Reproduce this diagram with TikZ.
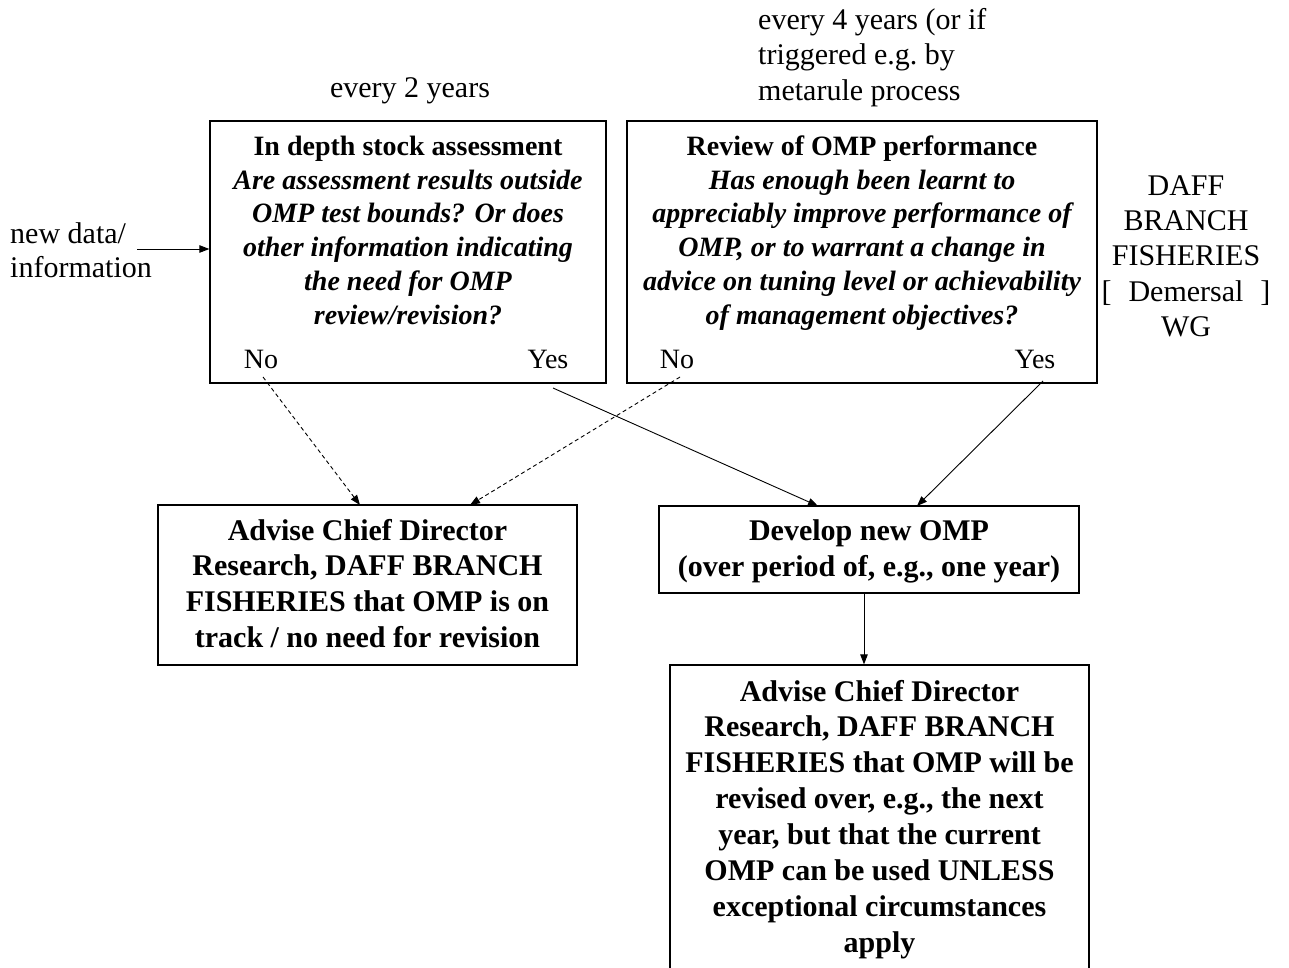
\documentclass[tikz,border=0pt]{standalone}
\usepackage{fontspec}
\setmainfont{Liberation Serif}
\usetikzlibrary{arrows.meta,calc}
\begin{document}
\begin{tikzpicture}[x=1pt,y=-1pt,
  box/.style={draw,line width=1.3pt,inner sep=0pt},
  txt/.style={anchor=base,align=center,inner sep=0pt,font=\fontsize{28}{34}\selectfont},
  btxt/.style={txt,font=\fontsize{28}{35.8}\selectfont\bfseries},
  qtxt/.style={txt,font=\fontsize{28}{33.8}\selectfont\bfseries\itshape},
  ptxt/.style={txt,font=\fontsize{30}{35.5}\selectfont},
  conn/.style={line width=0.9pt,-{Triangle[length=10pt,width=7.5pt]}},
  dconn/.style={conn,dash pattern=on 4pt off 3pt}
]
\useasboundingbox (0,0) rectangle (1289,967);
\clip (0,0) rectangle (1289,967);

% boxes
\node[box,minimum width=396,minimum height=262] (A) at (408,252) {};
\node[box,minimum width=470,minimum height=262] (B) at (862,252) {};
\node[box,minimum width=419,minimum height=160] (C) at (367.5,585) {};
\node[box,minimum width=420,minimum height=87] (D) at (869,549.5) {};
\node[box,minimum width=419,minimum height=335] (E) at (879.5,832.5) {};

% labels above / beside (base anchor = last line's baseline)
\node[ptxt] (t2) at (410,97) {every 2 years};
\node[ptxt,anchor=base west,align=left] (t4) at (758,100) {every 4 years (or if\\triggered e.g.\ by\\metarule process};
\node[ptxt,font=\fontsize{30}{35.4}\selectfont] (daff) at (1186,336.6) {DAFF\\BRANCH\\FISHERIES\\{[}\hspace{17pt}Demersal\hspace{17pt}{]}\\WG};
\node[ptxt,anchor=base west,align=left,font=\fontsize{30}{34}\selectfont] (nd) at (10,277) {new data/\\information};

% box A text
\node[btxt] (Ah) at (408,155) {In depth stock assessment};
\node[qtxt] (Aq) at (408,324.2) {Are assessment results outside\\OMP test bounds? Or does\\other information indicating\\the need for OMP\\review/revision?};
\node[txt] (Ano) at (261,368) {No};
\node[txt] (Ayes) at (548,368) {Yes};

% box B text
\node[btxt] (Bh) at (862,155) {Review of OMP performance};
\node[qtxt] (Bq) at (862,324.2) {Has enough been learnt to\\appreciably improve performance of\\OMP, or to warrant a change in\\advice on tuning level or achievability\\of management objectives?};
\node[txt] (Bno) at (677,368) {No};
\node[txt] (Byes) at (1035,368) {Yes};

% box C, D, E text
\node[btxt,font=\fontsize{30}{35.7}\selectfont\bfseries] (Ct) at (367.5,647.1) {Advise Chief Director\\Research, DAFF BRANCH\\FISHERIES that OMP is on\\track / no need for revision};
\node[btxt,font=\fontsize{30}{36}\selectfont\bfseries] (Dt) at (869,576) {Develop new OMP\\(over period of, e.g., one year)};
\node[btxt,font=\fontsize{30}{35.9}\selectfont\bfseries] (Et) at (879.5,952.3) {Advise Chief Director\\Research, DAFF BRANCH\\FISHERIES that OMP will be\\revised over, e.g., the next\\year, but that the current\\OMP can be used UNLESS\\exceptional circumstances\\apply};

% connector end points
\coordinate (ndE) at (137,249);
\coordinate (AnoS) at (263,377);
\coordinate (AyesS) at (553,388);
\coordinate (BnoS) at (680,377);
\coordinate (ByesS) at (1043,381);
\coordinate (C1) at (360,505);
\coordinate (C2) at (470,505);
\coordinate (D1) at (818,506);
\coordinate (D2) at (917,506);
\coordinate (DS) at (864,593);

\draw[conn] (ndE) -- (ndE -| A.west);
\draw[dconn] (AnoS) -- (C1);
\draw[dconn] (BnoS) -- (C2);
\draw[conn] (AyesS) -- (D1);
\draw[conn] (ByesS) -- (D2);
\draw[conn] (DS) -- (DS |- E.north);
\end{tikzpicture}
\end{document}
